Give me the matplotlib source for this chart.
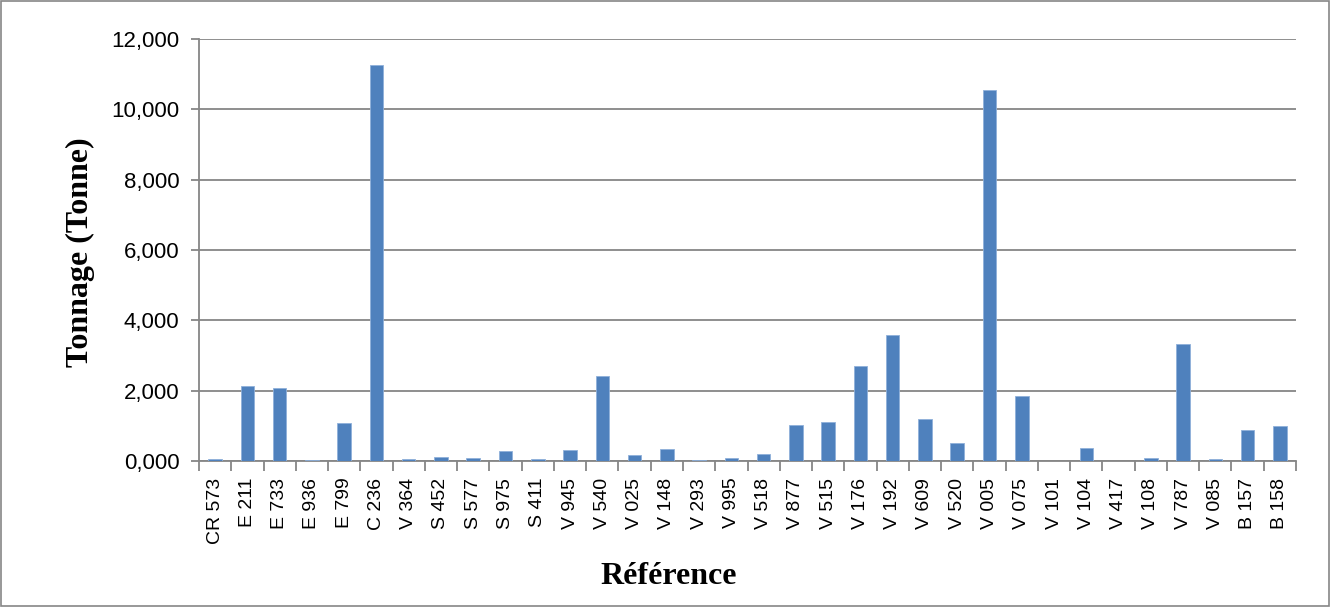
import numpy as np
import matplotlib.pyplot as plt
from matplotlib.patches import Rectangle

references = ['CR 573', 'E 211', 'E 733', 'E 936', 'E 799', 'C 236', 'V 364', 'S 452',
              'S 577', 'S 975', 'S 411', 'V 945', 'V 540', 'V 025', 'V 148', 'V 293',
              'V 995', 'V 518', 'V 877', 'V 515', 'V 176', 'V 192', 'V 609', 'V 520',
              'V 005', 'V 075', 'V 101', 'V 104', 'V 417', 'V 108', 'V 787', 'V 085',
              'B 157', 'B 158']
tonnage = [50, 2130, 2080, 40, 1075, 11250, 60, 115, 90, 285, 70, 300, 2430, 180,
           350, 20, 75, 190, 1015, 1115, 2700, 3590, 1195, 510, 10550, 1855, 0, 370,
           10, 85, 3320, 60, 890, 995]
y_ticks = [0, 2000, 4000, 6000, 8000, 10000, 12000]
y_tick_labels = ['0,000', '2,000', '4,000', '6,000', '8,000', '10,000', '12,000']

W, H = 1330, 607
fig = plt.figure(figsize=(W / 100, H / 100), dpi=100)
ax = fig.add_axes([199 / W, 1 - 461 / H, (1296 - 199) / W, (461 - 39) / H])

x = np.arange(len(references))
ax.bar(x, tonnage, width=0.42, color='#4F81BD', edgecolor='#8FB0DA', linewidth=0.6, zorder=3)

ax.set_xlim(-0.5, len(references) - 0.5)
ax.set_ylim(0, 12000)
ax.set_yticks(y_ticks)
ax.set_yticklabels(y_tick_labels, fontsize=16, family='Liberation Sans')
ax.yaxis.grid(True, color='#868686', linewidth=1.3, zorder=0)

# category labels centred, tick marks on category boundaries
ax.set_xticks(x)
ax.set_xticklabels(references, rotation=90, fontsize=14, family='Liberation Sans')
ax.tick_params(axis='x', which='major', length=0, pad=12)
ax.set_xticks(np.arange(-0.5, len(references)), minor=True)
ax.tick_params(axis='x', which='minor', length=7, color='#868686', width=1.3)
ax.tick_params(axis='y', length=6, color='#868686', width=1.3, pad=8)

for side in ['top', 'right']:
    ax.spines[side].set_visible(False)
for side in ['left', 'bottom']:
    ax.spines[side].set_color('#868686')
    ax.spines[side].set_linewidth(1.3)

fig.text(80 / W, 1 - 252 / H, 'Tonnage (Tonne)', rotation=90, ha='center', va='center',
         fontsize=23, fontweight='bold', family='Liberation Serif')
fig.text(669 / W, 1 - 577 / H, 'Référence', ha='center', va='center',
         fontsize=23, fontweight='bold', family='Liberation Serif')

fig.patches.append(Rectangle((0.001, 0.002), 0.998, 0.996, transform=fig.transFigure,
                             fill=False, edgecolor='#868686', linewidth=1.2))

fig.savefig('out.png', dpi=100)
